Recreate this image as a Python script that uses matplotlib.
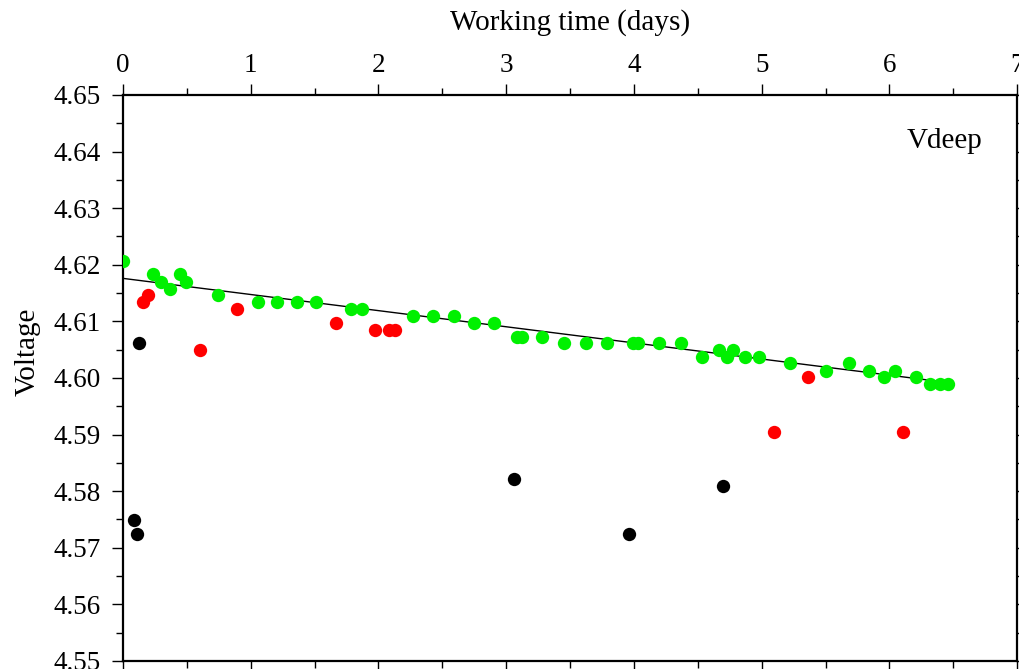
import numpy as np
import matplotlib
matplotlib.use('Agg')
import matplotlib.pyplot as plt
from matplotlib.ticker import MultipleLocator

# 绿色点（正常数据）
green_t = [0.0, 0.237, 0.294, 0.365, 0.445, 0.492, 0.742, 1.06, 1.208, 1.36, 1.51,
           1.786, 1.87, 2.273, 2.43, 2.59, 2.748, 2.904, 3.083, 3.12, 3.28, 3.456,
           3.625, 3.79, 3.99, 4.03, 4.20, 4.367, 4.531, 4.664, 4.727, 4.773, 4.867,
           4.982, 5.224, 5.502, 5.685, 5.844, 5.96, 6.04, 6.208, 6.315, 6.395, 6.455]
green_v = [4.6206, 4.6183, 4.6170, 4.6157, 4.6183, 4.6170, 4.6146, 4.6134, 4.6134, 4.6134, 4.6134,
           4.6122, 4.6122, 4.6110, 4.6110, 4.6110, 4.6098, 4.6098, 4.6073, 4.6073, 4.6073, 4.6061,
           4.6061, 4.6061, 4.6061, 4.6061, 4.6061, 4.6061, 4.6037, 4.6049, 4.6037, 4.6049, 4.6037,
           4.6037, 4.6026, 4.6013, 4.6026, 4.6013, 4.6001, 4.6013, 4.6001, 4.5989, 4.5989, 4.5989]

# 红色点
red_t = [0.154, 0.195, 0.60, 0.896, 1.667, 1.969, 2.086, 2.133, 5.096, 5.362, 6.104]
red_v = [4.6134, 4.6147, 4.6050, 4.6122, 4.6098, 4.6085, 4.6085, 4.6085, 4.5905, 4.6001, 4.5905]

# 黑色点
black_t = [0.086, 0.11, 0.127, 3.06, 3.96, 4.70]
black_v = [4.5749, 4.5724, 4.6061, 4.5822, 4.5724, 4.5809]

# 拟合直线
fit_intercept = 4.6176
fit_slope = -0.00285
fit_range = [0.0, 6.5]

plt.rcParams['font.family'] = ['Liberation Serif', 'DejaVu Serif']

fig = plt.figure(figsize=(10.19, 6.69), dpi=100)
ax = fig.add_axes([0.1207, 0.012, 0.8775, 0.846])

fx = np.array(fit_range)
ax.plot(fx, fit_intercept + fit_slope * fx, color='black', lw=1.0, zorder=2)
ax.plot(green_t, green_v, 'o', color='#00f000', ms=9.6, mec='none', zorder=3)
ax.plot(red_t, red_v, 'o', color='#ff0000', ms=9.6, mec='none', zorder=3)
ax.plot(black_t, black_v, 'o', color='black', ms=9.6, mec='none', zorder=3)

ax.set_xlim(0, 7)
ax.set_ylim(4.55, 4.65)
ax.xaxis.set_major_locator(MultipleLocator(1))
ax.xaxis.set_minor_locator(MultipleLocator(0.5))
ax.yaxis.set_major_locator(MultipleLocator(0.01))
ax.yaxis.set_minor_locator(MultipleLocator(0.005))
ax.yaxis.set_major_formatter(matplotlib.ticker.FormatStrFormatter('%.2f'))

ax.tick_params(which='both', direction='out', top=True, bottom=True, left=True, right=True,
               labeltop=True, labelbottom=False, labelsize=19.5, width=1.0)
ax.tick_params(which='major', length=8, pad=4)
ax.tick_params(which='minor', length=5)
ax.tick_params(axis='y', which='major', pad=8)

for s in ax.spines.values():
    s.set_linewidth(1.6)

ax.xaxis.set_label_position('top')
ax.set_xlabel('Working time (days)', fontsize=21, labelpad=17)
ax.set_ylabel('Voltage', fontsize=21)
ax.yaxis.set_label_coords(-0.092, 0.546)
ax.text(0.876, 0.919, 'Vdeep', transform=ax.transAxes, fontsize=21, va='center', ha='left')

fig.savefig('out.png', dpi=100)
